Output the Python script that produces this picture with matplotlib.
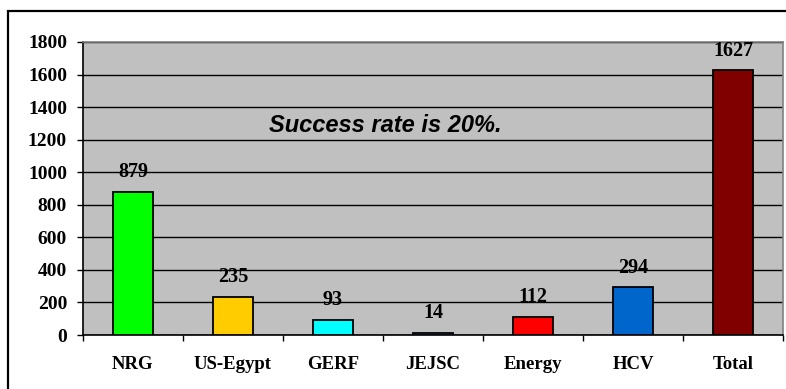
import matplotlib
matplotlib.use("Agg")
import matplotlib.pyplot as plt
from matplotlib.patches import Rectangle

categories = ["NRG", "US-Egypt", "GERF", "JEJSC", "Energy", "HCV", "Total"]
values = [879, 235, 93, 14, 112, 294, 1627]
colors = ["#00FF00", "#FFCC00", "#00FFFF", "#9999FF", "#FF0000", "#0066CC", "#800000"]
yticks = [0, 200, 400, 600, 800, 1000, 1200, 1400, 1600, 1800]
note = "Success rate is 20%."

W, H = 786, 389
fig = plt.figure(figsize=(W / 100, H / 100), dpi=100)
fig.patch.set_facecolor("white")

# outer chart frame (left and top visible)
fig.add_artist(Rectangle((8 / W, -0.1), 1.2, 1 - 11 / H + 0.1, transform=fig.transFigure,
                         fill=False, edgecolor="black", linewidth=1.6))

ax = fig.add_axes([83 / W, 54 / H, 700 / W, 293 / H])
ax.set_facecolor("#C0C0C0")
x = list(range(len(categories)))
ax.bar(x, values, width=0.4, color=colors, edgecolor="black", linewidth=1.3, zorder=3)
ax.set_xlim(-0.5, len(categories) - 0.5)
ax.set_ylim(0, 1800)
ax.set_yticks(yticks)
ax.set_yticklabels([str(v) for v in yticks], family="Liberation Serif", fontweight="bold", fontsize=14)
ax.yaxis.grid(True, color="black", linewidth=1.0, zorder=0)
ax.set_axisbelow(True)
ax.set_xticks([i + 0.5 for i in range(len(categories) - 1)] + [-0.5, len(categories) - 0.5])
ax.set_xticklabels([])
ax.set_xticks(x, minor=True)
ax.set_xticklabels(categories, minor=True, family="Liberation Serif", fontweight="bold", fontsize=13.5)
ax.tick_params(axis="x", which="major", direction="out", length=4.5, width=1)
ax.tick_params(axis="x", which="minor", length=0, pad=15)
ax.tick_params(axis="y", direction="out", length=4.5, width=1, pad=7)
for s in ["top", "right"]:
    ax.spines[s].set_color("#808080")
    ax.spines[s].set_linewidth(1.2)
for s in ["left", "bottom"]:
    ax.spines[s].set_color("black")
    ax.spines[s].set_linewidth(1.2)

for xi, v in zip(x, values):
    ax.annotate(str(v), (xi, v), xytext=(0, 14), textcoords="offset points",
                ha="center", va="center", family="Liberation Serif", fontweight="bold",
                fontsize=14.5, zorder=4)

ax.text(2.52, 1290, note, ha="center", va="center", family="Liberation Sans",
        fontweight="bold", fontstyle="italic", fontsize=17, zorder=4)

fig.savefig("out.png", dpi=100)
